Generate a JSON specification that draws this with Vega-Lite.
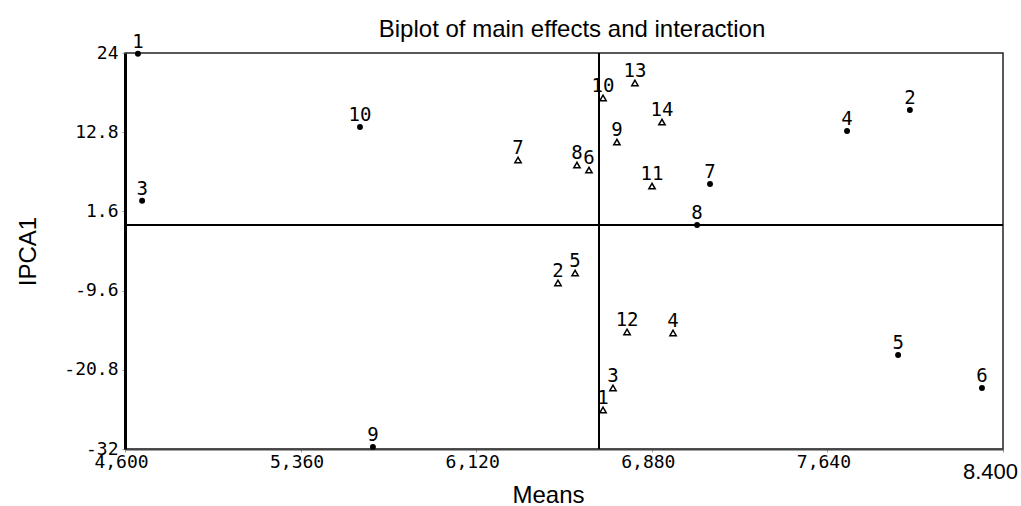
{
  "$schema": "https://vega.github.io/schema/vega-lite/v6.json",
  "width": 878,
  "height": 396,
  "autosize": "none",
  "padding": {"left": 125, "top": 53, "right": 18, "bottom": 57},
  "background": "white",
  "title": {"text": "Biplot of main effects and interaction", "font": "Liberation Sans", "fontSize": 24, "fontWeight": "normal", "color": "black", "offset": -9, "dx": 8, "anchor": "middle", "frame": "group"},
  "config": {"view": {"stroke": "#222", "strokeWidth": 1.5}},
  "datasets": {
    "pts": [
      {"id": "1", "type": "Environment", "mean": 4.656, "ipca": 23.9},
      {"id": "10", "type": "Environment", "mean": 5.617, "ipca": 13.54},
      {"id": "3", "type": "Environment", "mean": 4.674, "ipca": 3.1},
      {"id": "9", "type": "Environment", "mean": 5.673, "ipca": -31.7},
      {"id": "2", "type": "Environment", "mean": 7.997, "ipca": 15.94},
      {"id": "4", "type": "Environment", "mean": 7.725, "ipca": 12.97},
      {"id": "7", "type": "Environment", "mean": 7.132, "ipca": 5.48},
      {"id": "8", "type": "Environment", "mean": 7.076, "ipca": -0.32},
      {"id": "5", "type": "Environment", "mean": 7.946, "ipca": -18.71},
      {"id": "6", "type": "Environment", "mean": 8.309, "ipca": -23.37},
      {"id": "13", "type": "Genotype", "mean": 6.807, "ipca": 19.76},
      {"id": "10", "type": "Genotype", "mean": 6.669, "ipca": 17.64},
      {"id": "14", "type": "Genotype", "mean": 6.924, "ipca": 14.24},
      {"id": "9", "type": "Genotype", "mean": 6.729, "ipca": 11.41},
      {"id": "7", "type": "Genotype", "mean": 6.301, "ipca": 8.87},
      {"id": "8", "type": "Genotype", "mean": 6.556, "ipca": 8.16},
      {"id": "6", "type": "Genotype", "mean": 6.608, "ipca": 7.45},
      {"id": "11", "type": "Genotype", "mean": 6.881, "ipca": 5.19},
      {"id": "2", "type": "Genotype", "mean": 6.474, "ipca": -8.52},
      {"id": "5", "type": "Genotype", "mean": 6.548, "ipca": -7.11},
      {"id": "12", "type": "Genotype", "mean": 6.773, "ipca": -15.45},
      {"id": "4", "type": "Genotype", "mean": 6.972, "ipca": -15.59},
      {"id": "3", "type": "Genotype", "mean": 6.712, "ipca": -23.37},
      {"id": "1", "type": "Genotype", "mean": 6.669, "ipca": -26.48}
    ]
  },
  "data": {"name": "pts"},
  "resolve": {"axis": {"x": "independent", "y": "independent"}},
  "layer": [
    {
      "mark": {"type": "rule", "color": "black", "strokeWidth": 1.5},
      "encoding": {"x": {"datum": 6.651, "type": "quantitative", "axis": null}}
    },
    {
      "mark": {"type": "rule", "color": "black", "strokeWidth": 1},
      "encoding": {"y": {"datum": -0.32, "type": "quantitative", "axis": null}}
    },
    {
      "transform": [{"filter": "datum.type == 'Genotype'"}],
      "mark": {"type": "point", "shape": "triangle-up", "filled": false, "stroke": "black", "strokeWidth": 1.5, "size": 40, "opacity": 1},
      "encoding": {
        "x": {"field": "mean", "type": "quantitative", "scale": {"domain": [4.6, 8.4], "nice": false, "zero": false},
          "axis": {
            "values": [4.6, 5.36, 6.12, 6.88, 7.64, 8.4],
            "labelExpr": "datum.value > 8.3 ? '8.400' : replace(format(datum.value, '.3f'), '.', ',')",
            "labelFont": {"condition": {"test": "datum.value > 8.3", "value": "Liberation Sans"}, "value": "DejaVu Sans Mono"},
            "labelFontSize": {"condition": {"test": "datum.value > 8.3", "value": 22}, "value": 18},
            "labelPadding": {"condition": {"test": "datum.value > 8.3", "value": 9}, "value": 1},
            "labelOffset": {"condition": {"test": "datum.value > 8.3", "value": -13}, "value": -4},
            "labelBaseline": "top",
            "labelColor": "black",
            "labelFlush": false,
            "labelOverlap": false,
            "labelBound": false,
            "grid": false,
            "tickSize": 3,
            "tickColor": "#999",
            "domainColor": "#444",
            "domainWidth": 2,
            "title": "Means",
            "titleFont": "Liberation Sans",
            "titleFontSize": 24,
            "titleFontWeight": "normal",
            "titleColor": "black",
            "titleX": 423,
            "titleY": 53,
            "titleBaseline": "alphabetic",
            "titleAlign": "center"
          }
        },
        "y": {"field": "ipca", "type": "quantitative", "scale": {"domain": [-32, 24], "nice": false, "zero": false},
          "axis": {
            "values": [24, 12.8, 1.6, -9.6, -20.8, -32],
            "labelExpr": "datum.value < 0 ? '-' + format(-datum.value, '~g') : format(datum.value, '~g')",
            "labelFont": "DejaVu Sans Mono",
            "labelFontSize": 18,
            "labelColor": "black",
            "labelPadding": 4,
            "labelFlush": false,
            "labelOverlap": false,
            "labelBound": false,
            "grid": false,
            "tickSize": 3,
            "tickColor": "#999",
            "domainColor": "black",
            "domainWidth": 3,
            "title": "IPCA1",
            "titleFont": "Liberation Sans",
            "titleFontSize": 24,
            "titleFontWeight": "normal",
            "titleColor": "black",
            "titleAngle": -90,
            "titleX": -90,
            "titleY": 198,
            "titleBaseline": "alphabetic",
            "titleAlign": "center"
          }
        }
      }
    },
    {
      "transform": [{"filter": "datum.type == 'Environment'"}],
      "mark": {"type": "point", "shape": "circle", "filled": true, "color": "black", "size": 35, "opacity": 1},
      "encoding": {
        "x": {"field": "mean", "type": "quantitative", "axis": null},
        "y": {"field": "ipca", "type": "quantitative", "axis": null}
      }
    },
    {
      "mark": {"type": "text", "font": "DejaVu Sans Mono", "fontSize": 19, "baseline": "alphabetic", "align": "center", "dy": -6, "color": "black"},
      "encoding": {
        "x": {"field": "mean", "type": "quantitative", "axis": null},
        "y": {"field": "ipca", "type": "quantitative", "axis": null},
        "text": {"field": "id"},
        "fontWeight": {"field": "type", "type": "nominal", "scale": {"domain": ["Environment", "Genotype"], "range": ["bold", "normal"]}, "legend": null}
      }
    }
  ]
}
